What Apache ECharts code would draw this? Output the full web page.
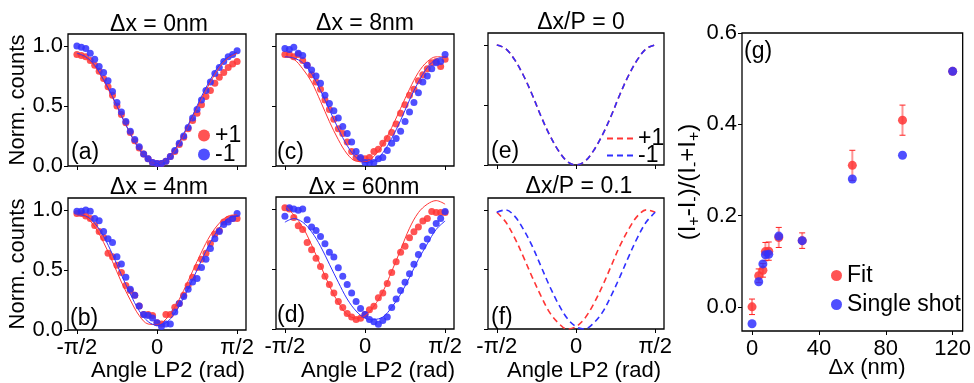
<!DOCTYPE html>
<html>
<head>
<meta charset="utf-8">
<script src="https://cdn.jsdelivr.net/npm/echarts@6/dist/echarts.min.js"></script>
<style>
  html, body { margin: 0; padding: 0; background: #fff; }
  #chart { width: 974px; height: 383px; }
</style>
</head>
<body>
<div id="chart"></div>
<script>
// measured angles (deg) and fit sampling angles
var angles = [-90,-85,-80,-75,-70,-65,-60,-55,-50,-45,-40,-35,-30,-25,-20,-15,-10,-5,0,5,10,15,20,25,30,35,40,45,50,55,60,65,70,75,80,85,90];
var fitAngles = [-90,-80,-70,-60,-50,-40,-30,-20,-10,0,10,20,30,40,50,60,70,80,90];
var angleTicks = [-90, 0, 90];
var angleTickLabels = ['-π/2', '0', 'π/2'];
var countTicks = [0, 0.5, 1.0];

// (a) dx = 0nm
var aPlus  = [0.93,0.92,0.91,0.88,0.84,0.79,0.73,0.66,0.59,0.50,0.43,0.36,0.28,0.21,0.15,0.10,0.06,0.03,0.02,0.02,0.04,0.08,0.12,0.18,0.24,0.31,0.38,0.44,0.51,0.58,0.63,0.69,0.74,0.78,0.82,0.85,0.87];
var aMinus = [1.00,0.99,0.98,0.94,0.89,0.83,0.78,0.71,0.62,0.53,0.45,0.37,0.29,0.22,0.16,0.10,0.06,0.03,0.02,0.02,0.04,0.08,0.13,0.19,0.25,0.32,0.40,0.47,0.55,0.63,0.70,0.77,0.82,0.87,0.91,0.93,0.96];
var aFitPlus  = [0.93,0.90,0.83,0.71,0.57,0.42,0.27,0.14,0.05,0.02,0.05,0.13,0.26,0.41,0.56,0.70,0.82,0.90,0.94];
var aFitMinus = [0.94,0.91,0.84,0.72,0.58,0.42,0.27,0.14,0.05,0.02,0.05,0.14,0.27,0.42,0.58,0.72,0.84,0.91,0.95];

// (b) dx = 4nm
var bPlus  = [0.97,0.97,0.95,0.93,0.87,0.82,0.77,0.64,0.61,0.54,0.48,0.37,0.33,0.29,0.20,0.13,0.13,0.12,0.06,0.05,0.13,0.13,0.19,0.22,0.29,0.37,0.44,0.52,0.59,0.64,0.72,0.80,0.83,0.90,0.92,0.93,0.93];
var bMinus = [0.99,0.99,1.00,0.99,0.93,0.91,0.82,0.76,0.73,0.61,0.55,0.44,0.34,0.29,0.20,0.13,0.12,0.10,0.06,0.03,0.05,0.05,0.15,0.22,0.28,0.34,0.40,0.43,0.52,0.59,0.68,0.76,0.82,0.88,0.90,0.93,0.97];
var bFitPlus  = [0.96,0.94,0.86,0.73,0.57,0.40,0.25,0.12,0.05,0.045,0.09,0.19,0.33,0.49,0.65,0.79,0.89,0.95,0.96];
var bFitMinus = [0.96,0.95,0.89,0.78,0.63,0.46,0.30,0.16,0.07,0.04,0.06,0.14,0.27,0.42,0.58,0.73,0.85,0.93,0.95];

// (c) dx = 8nm
var cPlus  = [0.93,0.93,0.91,0.93,0.88,0.84,0.76,0.70,0.64,0.55,0.47,0.39,0.31,0.27,0.20,0.12,0.07,0.06,0.06,0.07,0.12,0.14,0.19,0.23,0.28,0.35,0.44,0.51,0.59,0.64,0.71,0.76,0.81,0.86,0.87,0.83,0.89];
var cMinus = [0.98,0.97,0.99,0.94,0.92,0.84,0.80,0.75,0.69,0.59,0.52,0.46,0.40,0.33,0.27,0.20,0.12,0.07,0.03,0.03,0.03,0.06,0.07,0.13,0.19,0.23,0.29,0.37,0.45,0.53,0.61,0.70,0.75,0.81,0.86,0.87,0.93];
var cFitPlus  = [0.91,0.89,0.81,0.70,0.54,0.37,0.22,0.10,0.04,0.035,0.08,0.18,0.32,0.48,0.64,0.78,0.87,0.91,0.91];
var cFitMinus = [0.91,0.90,0.86,0.77,0.63,0.47,0.31,0.17,0.07,0.03,0.04,0.11,0.23,0.38,0.55,0.70,0.82,0.89,0.91];

// (d) dx = 60nm
var dPlus  = [1.01,1.00,0.93,0.86,0.83,0.72,0.66,0.59,0.52,0.44,0.37,0.30,0.23,0.18,0.13,0.10,0.08,0.09,0.12,0.16,0.19,0.26,0.30,0.38,0.47,0.56,0.64,0.69,0.76,0.81,0.85,0.90,0.92,0.98,0.97,0.97,0.97];
var dMinus = [0.94,1.01,1.00,0.99,1.00,0.91,0.85,0.82,0.77,0.71,0.64,0.60,0.51,0.44,0.37,0.30,0.23,0.17,0.12,0.08,0.06,0.04,0.07,0.10,0.18,0.25,0.32,0.39,0.46,0.54,0.62,0.69,0.75,0.82,0.88,0.92,0.98];
var dFitPlus  = [1.03,0.95,0.85,0.70,0.53,0.36,0.22,0.12,0.09,0.11,0.19,0.31,0.48,0.66,0.84,0.97,1.04,1.07,1.04];
var dFitMinus = [0.89,0.92,0.89,0.81,0.69,0.54,0.39,0.25,0.15,0.09,0.08,0.10,0.18,0.29,0.43,0.58,0.71,0.83,0.90];

// (e) dx/P = 0 and (f) dx/P = 0.1, simulated
var ePlus  = [1.00,0.97,0.88,0.75,0.59,0.41,0.25,0.12,0.03,0.00,0.03,0.12,0.25,0.41,0.59,0.75,0.88,0.97,1.00];
var eMinus = [1.00,0.97,0.88,0.75,0.59,0.41,0.25,0.12,0.03,0.00,0.03,0.12,0.25,0.41,0.59,0.75,0.88,0.97,1.00];
var fPlus  = [0.98,0.90,0.77,0.61,0.44,0.28,0.14,0.05,0.00,0.02,0.09,0.21,0.36,0.53,0.70,0.84,0.95,1.00,0.98];
var fMinus = [0.98,1.00,0.95,0.84,0.70,0.53,0.36,0.21,0.09,0.02,0.00,0.05,0.14,0.28,0.44,0.61,0.77,0.90,0.98];

// (g) asymmetry vs dx
var gX      = [0, 4, 6.5, 8, 10, 16, 30, 60, 90, 120];
var gFit    = [0.000, 0.068, 0.080, 0.121, 0.122, 0.152, 0.145, 0.310, 0.409, 0.516];
var gFitErr = [0.017, 0.015, 0.015, 0.020, 0.020, 0.022, 0.017, 0.033, 0.033, 0.006];
var gShot   = [-0.037, 0.055, 0.094, 0.114, 0.115, 0.155, 0.145, 0.280, 0.332, 0.516];
var gXTicks = [0, 40, 80, 120];
var gYTicks = [0, 0.2, 0.4, 0.6];

var RED = '#ff3535';
var BLUE = '#3030ff';
var FONT = '"Liberation Sans", Arial, sans-serif';

var chart = echarts.init(document.getElementById('chart'));

function pairs(xs, ys) {
  return xs.map(function (x, i) { return [x, ys[i]]; });
}

var grids = [
  { left: 68,  top: 34,  width: 178, height: 132 },
  { left: 68,  top: 198, width: 178, height: 132 },
  { left: 276, top: 34,  width: 178, height: 132 },
  { left: 276, top: 197, width: 178, height: 132 },
  { left: 488, top: 33,  width: 176, height: 132 },
  { left: 488, top: 198, width: 176, height: 131 },
  { left: 742, top: 33,  width: 225, height: 298 }
];
grids.forEach(function (g) {
  g.show = true; g.borderColor = '#000'; g.borderWidth = 1.3; g.backgroundColor = 'transparent';
});

var tickStyle = { length: 4, lineStyle: { color: '#000', width: 1 } };
var noLine = { show: false, onZero: false };

function angleAxis(i, withLabels) {
  return {
    type: 'value', gridIndex: i, min: -100, max: 100,
    axisLine: noLine, splitLine: { show: false },
    axisTick: Object.assign({ customValues: angleTicks }, tickStyle),
    axisLabel: {
      show: withLabels, customValues: angleTicks, margin: 7,
      fontSize: 22, fontFamily: FONT, color: '#000',
      formatter: function (v) { return angleTickLabels[angleTicks.indexOf(v)]; }
    }
  };
}
function countAxis(i, withLabels) {
  var ax = {
    type: 'value', gridIndex: i, min: 0, max: 1.1,
    axisLine: noLine, splitLine: { show: false },
    axisTick: Object.assign({ customValues: countTicks }, tickStyle),
    axisLabel: {
      show: withLabels, customValues: countTicks, margin: 5,
      fontSize: 22, fontFamily: FONT, color: '#000',
      formatter: function (v) { return v.toFixed(1); }
    }
  };
  if (withLabels) {
    ax.name = 'Norm. counts';
    ax.nameLocation = 'middle';
    ax.nameGap = 39;
    ax.nameTextStyle = { fontSize: 22, fontFamily: FONT, color: '#000' };
  }
  return ax;
}

var xAxes = [
  angleAxis(0, false), angleAxis(1, true), angleAxis(2, false),
  angleAxis(3, true), angleAxis(4, false), angleAxis(5, true),
  {
    type: 'value', gridIndex: 6, min: -6, max: 126,
    axisLine: noLine, splitLine: { show: false },
    axisTick: Object.assign({ customValues: gXTicks }, tickStyle),
    axisLabel: { customValues: gXTicks, margin: 7, fontSize: 22, fontFamily: FONT, color: '#000' }
  }
];
var yAxes = [
  countAxis(0, true), countAxis(1, true), countAxis(2, false),
  countAxis(3, false), countAxis(4, false), countAxis(5, false),
  {
    type: 'value', gridIndex: 6, min: -0.053, max: 0.6,
    axisLine: noLine, splitLine: { show: false },
    axisTick: Object.assign({ customValues: gYTicks }, tickStyle),
    axisLabel: {
      customValues: gYTicks, margin: 5, fontSize: 22, fontFamily: FONT, color: '#000',
      formatter: function (v) { return v.toFixed(1); }
    },
    name: '(I{s|+}-I{s|-})/(I{s|-}+I{s|+})',
    nameLocation: 'middle', nameGap: 34,
    nameTextStyle: {
      fontSize: 24, fontFamily: FONT, color: '#000', lineHeight: 28,
      rich: { s: { fontSize: 16, fontFamily: FONT, color: '#000', verticalAlign: 'bottom', lineHeight: 28 } }
    }
  }
];

var series = [];
function dataPanel(i, plus, minus, fitPlus, fitMinus) {
  series.push({
    name: '+1', type: 'scatter', xAxisIndex: i, yAxisIndex: i,
    data: pairs(angles, plus), symbolSize: 7,
    itemStyle: { color: RED, opacity: 0.85 }, z: 2
  });
  series.push({
    name: '-1', type: 'scatter', xAxisIndex: i, yAxisIndex: i,
    data: pairs(angles, minus), symbolSize: 7,
    itemStyle: { color: BLUE, opacity: 0.85 }, z: 3
  });
  series.push({
    name: 'fit+1', type: 'line', xAxisIndex: i, yAxisIndex: i,
    data: pairs(fitAngles, fitPlus), smooth: 0.35, symbol: 'none',
    lineStyle: { color: RED, width: 1 }, z: 4
  });
  series.push({
    name: 'fit-1', type: 'line', xAxisIndex: i, yAxisIndex: i,
    data: pairs(fitAngles, fitMinus), smooth: 0.35, symbol: 'none',
    lineStyle: { color: BLUE, width: 1 }, z: 5
  });
}
dataPanel(0, aPlus, aMinus, aFitPlus, aFitMinus);
dataPanel(1, bPlus, bMinus, bFitPlus, bFitMinus);
dataPanel(2, cPlus, cMinus, cFitPlus, cFitMinus);
dataPanel(3, dPlus, dMinus, dFitPlus, dFitMinus);

function theoryPanel(i, plus, minus) {
  series.push({
    name: 'e+1', type: 'line', xAxisIndex: i, yAxisIndex: i,
    data: pairs(fitAngles, plus), smooth: 0.35, symbol: 'none',
    lineStyle: { color: RED, width: 1.6, type: [6, 4] }, itemStyle: { color: RED }
  });
  series.push({
    name: 'e-1', type: 'line', xAxisIndex: i, yAxisIndex: i,
    data: pairs(fitAngles, minus), smooth: 0.35, symbol: 'none',
    lineStyle: { color: BLUE, width: 1.6, type: [6, 4] }, itemStyle: { color: BLUE }
  });
}
theoryPanel(4, ePlus, eMinus);
theoryPanel(5, fPlus, fMinus);

// error bars of the fit asymmetry
series.push({
  name: 'err', type: 'custom', xAxisIndex: 6, yAxisIndex: 6, z: 1,
  data: gX.map(function (x, i) { return [x, gFit[i] - gFitErr[i], gFit[i] + gFitErr[i]]; }),
  encode: { x: 0, y: [1, 2] },
  renderItem: function (params, api) {
    var lo = api.coord([api.value(0), api.value(1)]);
    var hi = api.coord([api.value(0), api.value(2)]);
    var w = 3;
    return {
      type: 'group',
      children: [
        { type: 'line', shape: { x1: lo[0], y1: lo[1], x2: hi[0], y2: hi[1] }, style: { stroke: 'rgba(255,60,60,0.55)', lineWidth: 2 } },
        { type: 'line', shape: { x1: lo[0] - w, y1: lo[1], x2: lo[0] + w, y2: lo[1] }, style: { stroke: '#ff2020', lineWidth: 1 } },
        { type: 'line', shape: { x1: hi[0] - w, y1: hi[1], x2: hi[0] + w, y2: hi[1] }, style: { stroke: '#ff2020', lineWidth: 1 } }
      ]
    };
  }
});
series.push({
  name: 'Fit', type: 'scatter', xAxisIndex: 6, yAxisIndex: 6,
  data: pairs(gX, gFit), symbolSize: 9,
  itemStyle: { color: RED, opacity: 0.85 }, z: 2
});
series.push({
  name: 'Single shot', type: 'scatter', xAxisIndex: 6, yAxisIndex: 6,
  data: pairs(gX, gShot), symbolSize: 9,
  itemStyle: { color: BLUE, opacity: 0.85 }, z: 3
});

function txt(x, y, s, size, align) {
  return {
    type: 'text', x: x, y: y, z: 100,
    style: { text: s, fontSize: size, fontFamily: FONT, fill: '#000', align: align || 'center', verticalAlign: 'middle' }
  };
}

var legendText = { fontSize: 23, fontFamily: FONT, color: '#000' };
function dotLegend(name, left, top, size) {
  return { data: [name], left: left, top: top, icon: 'circle', itemWidth: size, itemHeight: size,
    textStyle: legendText, padding: 0, selectedMode: false };
}
function dashLegend(name, left, top) {
  return { data: [name], left: left, top: top, itemWidth: 26, itemHeight: 10,
    textStyle: legendText, padding: 0, selectedMode: false, itemStyle: { opacity: 0 },
    formatter: function (n) { return n.slice(1); } };
}

chart.setOption({
  animation: false,
  backgroundColor: '#fff',
  grid: grids,
  xAxis: xAxes,
  yAxis: yAxes,
  legend: [
    dotLegend('+1', 198, 124, 12),
    dotLegend('-1', 198, 143, 12),
    dashLegend('e+1', 606, 127),
    dashLegend('e-1', 606, 144),
    dotLegend('Fit', 831, 264, 11),
    dotLegend('Single shot', 831, 293, 11)
  ],
  graphic: [
    txt(159, 25, 'Δx = 0nm', 23),
    txt(159, 188, 'Δx = 4nm', 23),
    txt(365, 24, 'Δx = 8nm', 23),
    txt(364, 188, 'Δx = 60nm', 23),
    txt(581, 23, 'Δx/P = 0', 23),
    txt(579, 187, 'Δx/P = 0.1', 23),
    txt(71, 153, '(a)', 23, 'left'),
    txt(70, 319, '(b)', 23, 'left'),
    txt(277, 153, '(c)', 23, 'left'),
    txt(277, 316, '(d)', 23, 'left'),
    txt(491, 152, '(e)', 23, 'left'),
    txt(491, 318, '(f)', 23, 'left'),
    txt(744, 52, '(g)', 23, 'left'),
    txt(168, 371, 'Angle LP2 (rad)', 22),
    txt(378, 371, 'Angle LP2 (rad)', 22),
    txt(584, 371, 'Angle LP2 (rad)', 22),
    txt(867, 368, 'Δx (nm)', 22)
  ],
  series: series
});
</script>
</body>
</html>
